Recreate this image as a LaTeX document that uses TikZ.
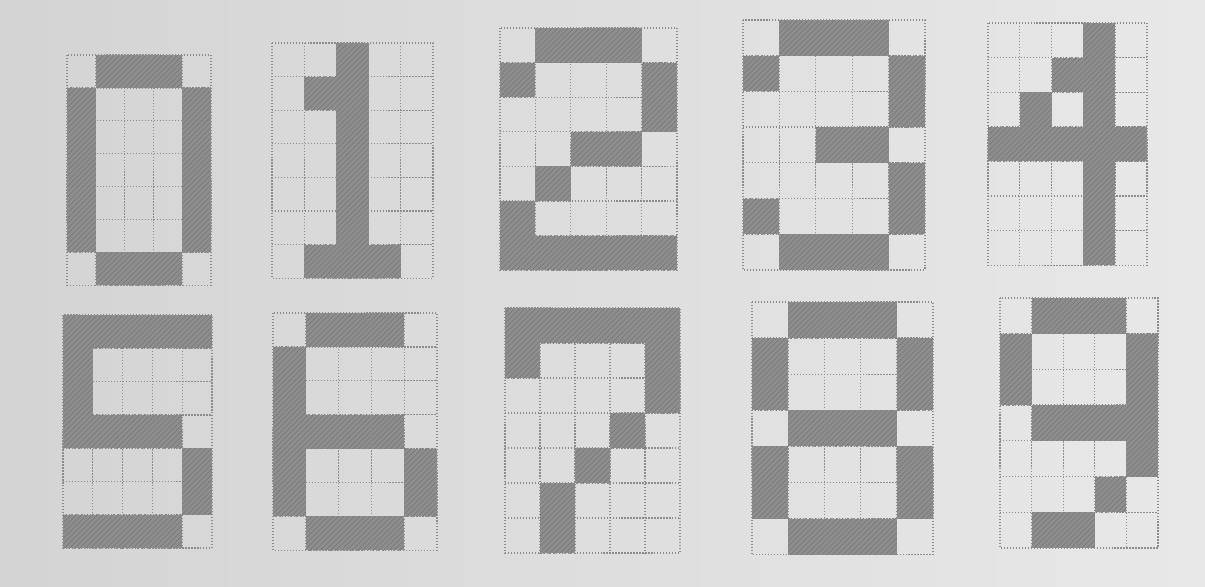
\documentclass[tikz,border=0pt]{standalone}
\usepackage{xcolor}
\usepackage{tikz}
\usetikzlibrary{patterns}
\definecolor{paper}{HTML}{F1F1EF}
\definecolor{ink}{HTML}{8E8E8E}
\tikzset{
  cellline/.style={densely dotted,line width=0.7pt,black!45},
  inked/.style={fill=ink,postaction={pattern=north east lines,pattern color=black!52}},
}
\newcommand{\glyph}[5]{%
  \foreach \c in {1,...,4} \draw[cellline] ({#1+\c*#3},#2) -- ++(0,7*#4);
  \foreach \r in {1,...,6} \draw[cellline] (#1,{#2+\r*#4}) -- ++(5*#3,0);
  \foreach \row [count=\j] in {#5}
    \foreach \b [count=\i] in \row
      {\ifnum\b=1 \fill[inked] ({#1+(\i-1)*#3},{#2+(\j-1)*#4}) rectangle ++(#3,#4);\fi}
  \draw[cellline] (#1,#2) rectangle ++(5*#3,7*#4);
}

\begin{document}
\begin{tikzpicture}[x=0.02cm,y=-0.02cm]
  \useasboundingbox (0,0) rectangle (1205,586);
  \shade[left color=black!17,middle color=paper,right color=black!9] (0,0) rectangle (1205,586);
  \glyph{67}{55}{28.8}{32.9}{{0,1,1,1,0},{1,0,0,0,1},{1,0,0,0,1},{1,0,0,0,1},{1,0,0,0,1},{1,0,0,0,1},{0,1,1,1,0}}
  \glyph{272}{43}{32.2}{33.6}{{0,0,1,0,0},{0,1,1,0,0},{0,0,1,0,0},{0,0,1,0,0},{0,0,1,0,0},{0,0,1,0,0},{0,1,1,1,0}}
  \glyph{500}{28}{35.4}{34.6}{{0,1,1,1,0},{1,0,0,0,1},{0,0,0,0,1},{0,0,1,1,0},{0,1,0,0,0},{1,0,0,0,0},{1,1,1,1,1}}
  \glyph{743}{20}{36.4}{35.7}{{0,1,1,1,0},{1,0,0,0,1},{0,0,0,0,1},{0,0,1,1,0},{0,0,0,0,1},{1,0,0,0,1},{0,1,1,1,0}}
  \glyph{988}{23}{31.8}{34.6}{{0,0,0,1,0},{0,0,1,1,0},{0,1,0,1,0},{1,1,1,1,1},{0,0,0,1,0},{0,0,0,1,0},{0,0,0,1,0}}
  \glyph{63}{315}{29.8}{33.3}{{1,1,1,1,1},{1,0,0,0,0},{1,0,0,0,0},{1,1,1,1,0},{0,0,0,0,1},{0,0,0,0,1},{1,1,1,1,0}}
  \glyph{273}{313}{32.8}{33.9}{{0,1,1,1,0},{1,0,0,0,0},{1,0,0,0,0},{1,1,1,1,0},{1,0,0,0,1},{1,0,0,0,1},{0,1,1,1,0}}
  \glyph{505}{308}{35}{35}{{1,1,1,1,1},{1,0,0,0,1},{0,0,0,0,1},{0,0,0,1,0},{0,0,1,0,0},{0,1,0,0,0},{0,1,0,0,0}}
  \glyph{752}{302}{36.2}{36.1}{{0,1,1,1,0},{1,0,0,0,1},{1,0,0,0,1},{0,1,1,1,0},{1,0,0,0,1},{1,0,0,0,1},{0,1,1,1,0}}
  \glyph{1000}{298}{31.6}{35.7}{{0,1,1,1,0},{1,0,0,0,1},{1,0,0,0,1},{0,1,1,1,1},{0,0,0,0,1},{0,0,0,1,0},{0,1,1,0,0}}
\end{tikzpicture}
\end{document}
